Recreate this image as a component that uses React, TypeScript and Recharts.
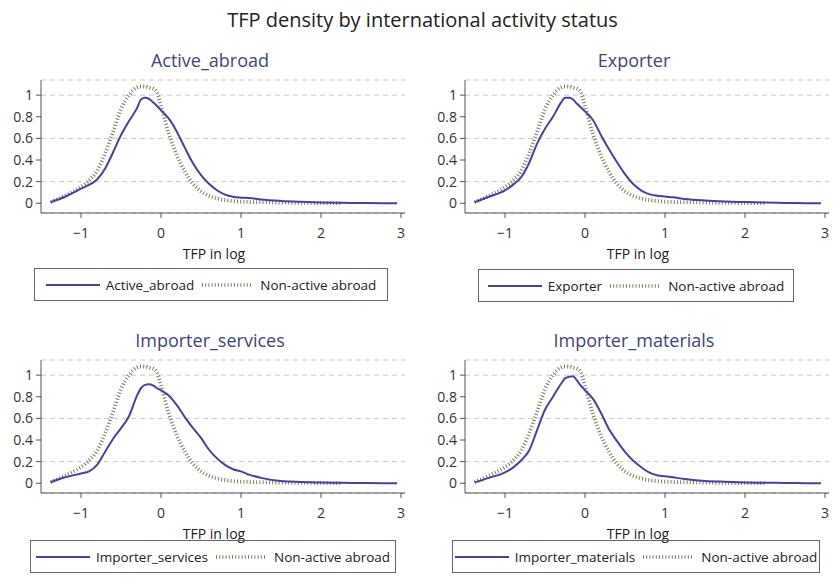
import React from 'react';
import { LineChart, Line, XAxis, YAxis, CartesianGrid, Label } from 'recharts';

const tfp = [-1.38, -1.2, -1.0, -0.9, -0.8, -0.7, -0.6, -0.5, -0.4, -0.3, -0.25, -0.2, -0.15, -0.1, -0.05, 0, 0.1, 0.2, 0.3, 0.4, 0.5, 0.6, 0.7, 0.8, 0.9, 1.0, 1.1, 1.25, 1.5, 1.75, 2.0, 2.25, 2.5, 2.75, 2.95];

const activeAbroad = [0.01, 0.06, 0.135, 0.17, 0.22, 0.32, 0.47, 0.63, 0.76, 0.88, 0.96, 0.975, 0.965, 0.935, 0.9, 0.86, 0.78, 0.66, 0.51, 0.37, 0.26, 0.18, 0.12, 0.08, 0.06, 0.052, 0.048, 0.035, 0.022, 0.014, 0.008, 0.004, 0.002, 0.001, 0.0];

const exporter = [0.01, 0.06, 0.12, 0.17, 0.24, 0.37, 0.55, 0.69, 0.8, 0.93, 0.975, 0.975, 0.96, 0.92, 0.885, 0.85, 0.77, 0.63, 0.5, 0.38, 0.27, 0.18, 0.12, 0.085, 0.07, 0.062, 0.055, 0.04, 0.026, 0.017, 0.011, 0.006, 0.003, 0.001, 0.0];

const importerServices = [0.01, 0.055, 0.09, 0.11, 0.17, 0.29, 0.41, 0.51, 0.62, 0.81, 0.88, 0.91, 0.915, 0.905, 0.88, 0.86, 0.81, 0.72, 0.61, 0.51, 0.42, 0.31, 0.23, 0.17, 0.13, 0.11, 0.08, 0.05, 0.02, 0.012, 0.007, 0.004, 0.002, 0.001, 0.0];

const importerMaterials = [0.008, 0.05, 0.1, 0.145, 0.21, 0.3, 0.49, 0.68, 0.8, 0.92, 0.97, 0.985, 0.99, 0.95, 0.9, 0.86, 0.78, 0.65, 0.5, 0.39, 0.29, 0.21, 0.15, 0.1, 0.075, 0.065, 0.055, 0.04, 0.022, 0.014, 0.008, 0.005, 0.003, 0.001, 0.0];

const nonActive = [0.01, 0.07, 0.15, 0.21, 0.3, 0.46, 0.66, 0.87, 1.0, 1.07, 1.08, 1.08, 1.07, 1.06, 1.02, 0.9, 0.64, 0.44, 0.29, 0.18, 0.11, 0.07, 0.045, 0.03, 0.02, 0.015, 0.012, 0.01, 0.006, 0.004, 0.002, 0.001, null, null, null];

const xTicks = [-1, 0, 1, 2, 3];
const yTicks = [0, 0.2, 0.4, 0.6, 0.8, 1];

const mainTitle = 'TFP density by international activity status';
const xLabel = 'TFP in log';
const nonActiveName = 'Non-active abroad';

const FONT = '"Open Sans", "Noto Sans", sans-serif';
const BLUE = '#4a40a0';
const DOT = '#7b7b5c';
const TITLE_COLOR = '#3c4878';

type PanelProps = {
  x: number;
  y: number;
  title: string;
  name: string;
  values: number[];
  legendX: number;
  legendW: number;
  legendTop: number;
};

function Panel({ x, y, title, name, values, legendX, legendW, legendTop }: PanelProps) {
  const data = tfp.map((t, i) => ({ tfp: t, group: values[i], nonActive: nonActive[i] }));
  const fmtX = (v: number) => (v < 0 ? '\u2212' + Math.abs(v) : String(v));
  return (
    <div style={{ position: 'absolute', left: x, top: y, width: 420, height: 270 }}>
      <div
        style={{
          position: 'absolute',
          left: 0,
          width: 420,
          top: 8,
          textAlign: 'center',
          fontFamily: FONT,
          fontSize: 18,
          lineHeight: '24px',
          color: TITLE_COLOR,
        }}
      >
        {title}
      </div>
      <LineChart width={420} height={240} data={data} margin={{ top: 40, right: 15, bottom: 17, left: 0 }}>
        <CartesianGrid horizontal vertical={false} stroke="#c9c9c9" strokeDasharray="5 4" />
        <XAxis
          dataKey="tfp"
          type="number"
          domain={[-1.5, 3.05]}
          allowDataOverflow
          ticks={xTicks}
          tickFormatter={fmtX}
          height={50}
          tickSize={5}
          tickMargin={10}
          stroke="#555"
          tick={{ fill: '#333', fontSize: 14, fontFamily: FONT }}
        >
          <Label value={xLabel} position="insideBottom" offset={4} dx={-9} fill="#222" fontSize={14} fontFamily={FONT} />
        </XAxis>
        <YAxis
          type="number"
          domain={[-0.09, 1.14]}
          allowDataOverflow
          ticks={yTicks}
          width={41}
          tickSize={5}
          tickMargin={3}
          stroke="#555"
          tick={{ fill: '#333', fontSize: 14, fontFamily: FONT }}
        />
        <Line
          type="monotone"
          dataKey="nonActive"
          name={nonActiveName}
          stroke={DOT}
          strokeWidth={3.8}
          strokeDasharray="1 2.2"
          dot={false}
          isAnimationActive={false}
        />
        <Line
          type="monotone"
          dataKey="group"
          name={name}
          stroke={BLUE}
          strokeWidth={2}
          dot={false}
          isAnimationActive={false}
        />
      </LineChart>
      <div
        style={{
          position: 'absolute',
          left: legendX - x,
          top: legendTop,
          width: legendW,
          height: 33,
          boxSizing: 'border-box',
          border: '1px solid #666',
          display: 'flex',
          alignItems: 'center',
          justifyContent: 'center',
          fontFamily: FONT,
          fontSize: 13.5,
          color: '#222',
          whiteSpace: 'nowrap',
        }}
      >
        <svg width={54} height={10} style={{ marginRight: 6 }}>
          <line x1={0} y1={5} x2={54} y2={5} stroke={BLUE} strokeWidth={2} />
        </svg>
        <span style={{ marginRight: 8 }}>{name}</span>
        <svg width={50} height={10} style={{ marginRight: 8 }}>
          <line x1={0} y1={5} x2={50} y2={5} stroke={DOT} strokeWidth={3.5} strokeDasharray="1 2.2" />
        </svg>
        <span>{nonActiveName}</span>
      </div>
    </div>
  );
}

export default function App() {
  return (
    <div style={{ position: 'absolute', left: 0, top: 0, width: 837, height: 579, background: '#fff', overflow: 'hidden' }}>
      <div
        style={{
          position: 'absolute',
          left: 0,
          top: 7,
          width: 845,
          textAlign: 'center',
          fontFamily: FONT,
          fontSize: 20,
          lineHeight: '26px',
          color: '#222',
        }}
      >
        {mainTitle}
      </div>
      <Panel x={0} y={40} title="Active_abroad" name="Active_abroad" values={activeAbroad} legendX={34} legendW={354} legendTop={228} />
      <Panel x={424} y={40} title="Exporter" name="Exporter" values={exporter} legendX={478} legendW={316} legendTop={229} />
      <Panel x={0} y={320} title="Importer_services" name="Importer_services" values={importerServices} legendX={30} legendW={366} legendTop={220} />
      <Panel x={424} y={320} title="Importer_materials" name="Importer_materials" values={importerMaterials} legendX={452} legendW={368} legendTop={220} />
    </div>
  );
}
